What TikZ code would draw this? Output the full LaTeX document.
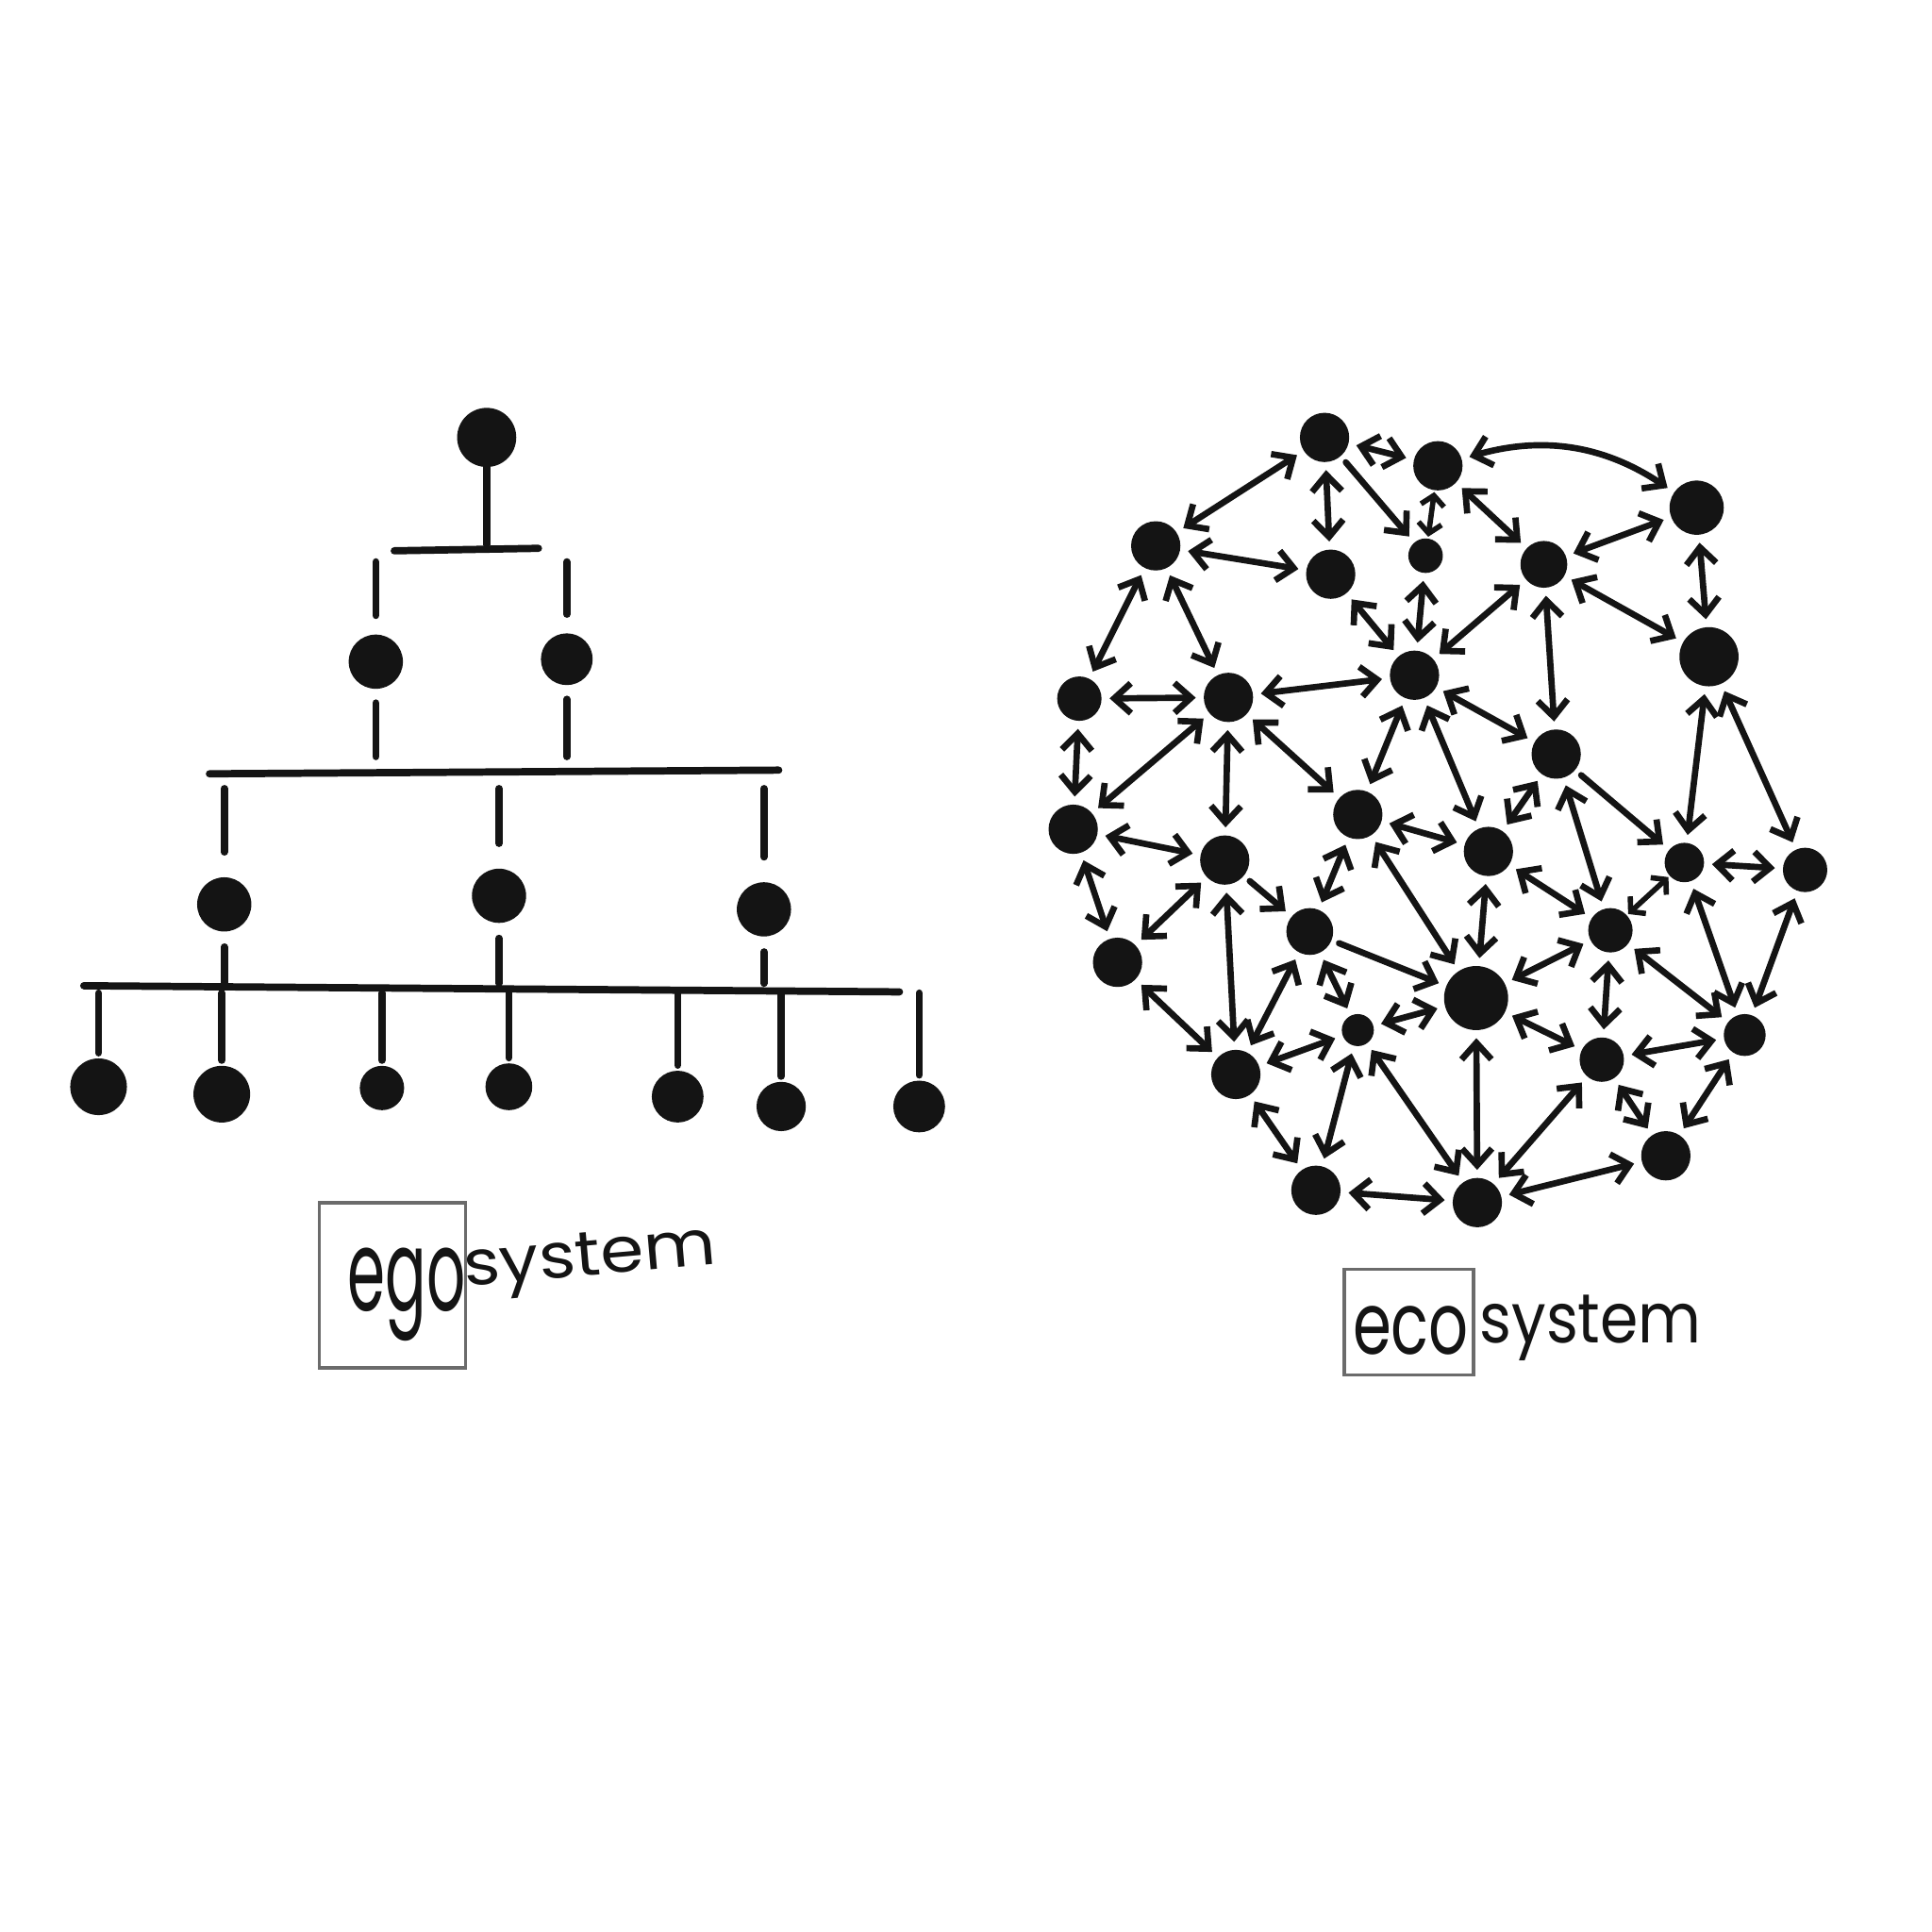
\documentclass[tikz,border=0pt]{standalone}
\usepackage{fontspec}
\usepackage{graphicx}
\newfontfamily\handfont{Poppins}
\usetikzlibrary{arrows.meta}
\definecolor{pencil}{gray}{0.08}
\definecolor{framegray}{gray}{0.42}
\newlength{\pxu}
\setlength{\pxu}{0.01306cm}
\newcommand{\handtext}[3]{\scalebox{#1}[1]{\fontsize{#2pt}{#2pt}\selectfont\handfont #3}}
\begin{document}
\begin{tikzpicture}[x=0.01306cm, y=-0.01306cm,
  >={Straight Barb[length=5pt,width=9pt]},
  dot/.style={circle, fill=pencil, inner sep=0pt, minimum size={2*#1*0.01306cm}},
  pencilline/.style={draw=pencil, line width=2.2pt, line cap=round},
  link/.style={<->, draw=pencil, line width=1.9pt, line cap=round, shorten <=6\pxu, shorten >=6\pxu},
  shortlink/.style={link, {Straight Barb[length=3pt,width=7pt]}-{Straight Barb[length=3pt,width=7pt]}, line width=1.6pt, shorten <=1\pxu, shorten >=1\pxu},
  framebox/.style={draw=framegray, line width=1pt, inner sep=0pt},
  word/.style={anchor=base, inner sep=0pt, text=pencil}]
\useasboundingbox (0,0) rectangle (1568,1568);

% egosystem
\node[dot=24] (top) at (395,355) {};
\foreach \name/\x/\y/\r in {mid1/305/537/22, mid2/460/535/21, low1/182/734/22, low2/405/727/22, low3/620/738/22,
  base1/80/882/23, base2/180/888/23, base3/310/883/18, base4/413/882/19, base5/550/890/21, base6/634/898/20, base7/746/898/21}
  \node[dot=\r] (\name) at (\x,\y) {};
\coordinate (bar0w) at (320,447); \coordinate (bar0e) at (437,445);
\coordinate (bar1w) at (170,628); \coordinate (bar1e) at (632,625);
\coordinate (bar2w) at (68,800); \coordinate (bar2e) at (730,805);
\draw[pencilline] (bar0w) -- (bar0e);
\draw[pencilline] (bar1w) -- (bar1e);
\draw[pencilline] (bar2w) -- (bar2e);
\draw[pencilline, shorten >=5\pxu] (top) -- (top |- bar0w);
\foreach \n in {mid1, mid2} {
  \draw[pencilline, shorten <=15\pxu, shorten >=9\pxu] (\n) -- (\n |- bar0w);
  \draw[pencilline, shorten <=11\pxu, shorten >=14\pxu] (\n) -- (\n |- bar1w);
}
\foreach \n in {low1, low2, low3} {
  \draw[pencilline, shorten <=20\pxu, shorten >=12\pxu] (\n) -- (\n |- bar1w);
  \draw[pencilline, shorten <=12\pxu, shorten >=2\pxu] (\n) -- (\n |- bar2w);
}
\foreach \n in {base1, base2, base3, base4, base5, base6, base7}
  \draw[pencilline, shorten <=4\pxu, shorten >=6\pxu] (\n) -- (\n |- bar2w);

\node[framebox, minimum width=119\pxu, minimum height=134\pxu] (egobox) at (318.5,1043) {};
\node[word] (egoword) at (330,1064) {\handtext{0.54}{34}{ego}};
\node[word, rotate=5] (egosys) at (480,1035) {\handtext{1.11}{19}{system}};

% ecosystem
\foreach \name/\x/\y/\r in {a1/1075/355/20, a2/1167/378/20, a3/1377/412/22,
  b1/938/443/20, b2/1080/466/20, b3/1157/451/14, b4/1253/458/19,
  c1/876/567/18, c2/997/566/20, c3/1148/548/20, c4/1387/533/24, d1/1263/612/20,
  e1/871/673/20, e2/994/698/20, e3/1102/661/20, e4/1208/691/20, e5/1367/700/16, e6/1465/706/18,
  f1/907/781/20, f2/1063/756/19, f3/1307/755/18,
  g1/1198/810/26, g2/1102/836/13, g3/1416/840/17, g4/1300/860/18, h1/1003/872/20,
  i1/1068/966/20, i2/1199/976/20, i3/1352/938/20}
  \node[dot=\r] (\name) at (\x,\y) {};
\foreach \p/\q in {a1/b1, a1/a2, a1/b2, a2/b4, b4/a3, a3/c4, b4/d1, b4/c4, b4/c3,
  b3/c3, b2/c3, b1/b2, b1/c1, b1/c2, c1/c2, c2/c3, c3/e3, c3/e4, c3/d1, c1/e1, c2/e1,
  c2/e2, c2/e3, e1/e2, e1/f1, e3/f2, e3/e4, e3/g1, e4/g1, f1/e2, e2/h1, f1/h1, f2/h1,
  f2/g2, g2/g1, h1/g2, c4/e5, c4/e6, d1/e4, d1/f3, e4/f3, e5/e6, e5/g3, e6/g3,
  g1/f3, f3/g4, f3/g3, g1/g4, g4/g3, g1/i2, g4/i2, g4/i3, g3/i3, i2/i3, i1/i2, g2/i1,
  g2/i2, h1/i1}
  \draw[link] (\p) -- (\q);
\foreach \p/\q in {a2/b3, f3/e5}
  \draw[shortlink] (\p) -- (\q);
\foreach \p/\q in {a1/b3, e2/f2, f2/g1, d1/e5}
  \draw[link, ->] (\p) -- (\q);
\draw[link] (a2) to[bend left=25] (a3);

\node[framebox, minimum width=105\pxu, minimum height=86\pxu] (ecobox) at (1143.5,1073) {};
\node[word] (ecoword) at (1145,1099) {\handtext{0.72}{26}{eco}};
\node[word] (ecosys) at (1291,1090) {\handtext{0.88}{21}{system}};
\end{tikzpicture}
\end{document}
